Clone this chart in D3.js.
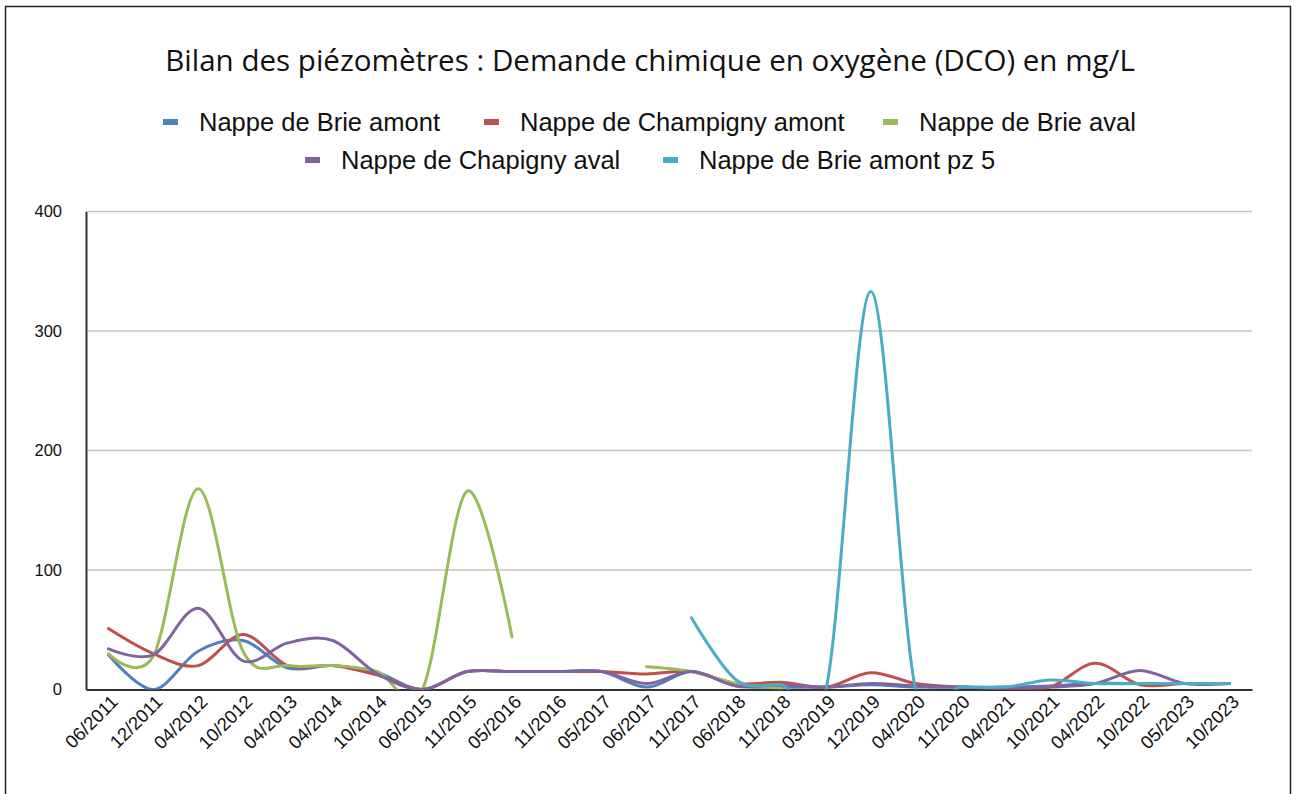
<!DOCTYPE html>
<html><head><meta charset="utf-8">
<script src="https://cdn.jsdelivr.net/npm/d3@7"></script>
<style>body{margin:0;background:#fff}svg{display:block}</style>
</head><body>
<svg id="c" width="1296" height="794"></svg>
<script>
const title = "Bilan des piézomètres : Demande chimique en oxygène (DCO) en mg/L";
const categories = ["06/2011","12/2011","04/2012","10/2012","04/2013","04/2014","10/2014","06/2015","11/2015","05/2016","11/2016","05/2017","06/2017","11/2017","06/2018","11/2018","03/2019","12/2019","04/2020","11/2020","04/2021","10/2021","04/2022","10/2022","05/2023","10/2023"];
const seriesNames = ["Nappe de Brie amont","Nappe de Champigny amont","Nappe de Brie aval","Nappe de Chapigny aval","Nappe de Brie amont pz 5"];
const brieAmont      = [29, 0, 32, 41, 18, 20, 14, 0, 15, 15, 15, 15, 2, 15, 3, 2, 2, 4, 2, 2, 2, 3, 5, 5, 5, 5];
const champignyAmont = [51, 30, 20, 46, 20, 20, 12, 0, 15, 15, 15, 15, 13, 15, 5, 6, 2, 14, 5, 2, 1, 2, 22, 4, 5, 5];
const brieAval       = [30, 28, 168, 32, 20, 20, 15, 0, 166, 44, null, null, 19, 15, 5, 1, null, null, null, null, null, null, null, null, null, null];
const chapignyAval   = [34, 29, 68, 24, 39, 41, 13, 0, 15, 15, 15, 15, 5, 15, 3, 4, 2, 5, 3, 2, 1, 2, 5, 16, 5, 5];
const brieAmontPz5   = [null, null, null, null, null, null, null, null, null, null, null, null, null, 60, 8, 4, 0, 333, 0, 2, 2, 8, 5, 5, 5, 5];
const yTicks = [0, 100, 200, 300, 400];
const colors = ["#4F81BD","#C0504D","#9BBB59","#8064A2","#4BACC6"];
const allSeries = [brieAmont, champignyAmont, brieAval, chapignyAval, brieAmontPz5];

const svg = d3.select("#c");
const L = 86, R = 1252, T = 211.5, B = 689.5;

// outer frame
svg.append("rect").attr("x",5.5).attr("y",6.5).attr("width",1285).attr("height",820)
  .attr("fill","none").attr("stroke","#222").attr("stroke-width",1.5);

const x = d3.scaleBand().domain(categories).range([L, R]);
const y = d3.scaleLinear().domain([0, 400]).range([B, T]);
const cx = c => x(c) + x.bandwidth()/2;

// title, fitted to its width in the reference
const tt = svg.append("text").attr("x", 650).attr("y", 71).attr("text-anchor","middle")
  .attr("font-family","'Open Sans', sans-serif").attr("font-size", 26).attr("fill","#111").text(title);
const tw = tt.node().getComputedTextLength();
tt.attr("font-size", 26 * 970 / tw);

// gridlines
svg.append("g").selectAll("line").data(yTicks.filter(d=>d>0)).join("line")
  .attr("x1", L).attr("x2", R).attr("y1", d=>y(d)).attr("y2", d=>y(d))
  .attr("stroke","#c4c4c4").attr("stroke-width",1.5);

// y axis
const yAxis = svg.append("g").attr("transform",`translate(${L},0)`)
  .call(d3.axisLeft(y).tickValues(yTicks).tickSize(0).tickPadding(24));
yAxis.select(".domain").attr("stroke","#333").attr("stroke-width",2);
yAxis.selectAll("text").attr("font-family","'Liberation Sans', Arial, sans-serif").attr("font-size",16.5).attr("fill","#111");

// x axis
const xAxis = svg.append("g").attr("transform",`translate(0,${B})`)
  .call(d3.axisBottom(x).tickSize(0).tickFormat(""));
xAxis.select(".domain").attr("stroke","#333").attr("stroke-width",2);
svg.append("g").selectAll("text").data(categories).join("text")
  .attr("transform", d => `translate(${cx(d)+6},${B+9}) rotate(-45)`)
  .attr("text-anchor","end").attr("dy","0.35em")
  .attr("font-family","'Liberation Sans', Arial, sans-serif").attr("font-size",18.5).attr("fill","#111")
  .text(d=>d);

// clip
svg.append("clipPath").attr("id","plot").append("rect")
  .attr("x", L).attr("y", T-40).attr("width", R-L).attr("height", B-T+40);

const line = d3.line()
  .defined(d => d.v !== null)
  .x(d => cx(d.c)).y(d => y(d.v))
  .curve(d3.curveCardinal.tension(0));

const gl = svg.append("g").attr("clip-path","url(#plot)");
allSeries.forEach((vals, i) => {
  const pts = categories.map((c, j) => ({c, v: vals[j]}));
  gl.append("path").datum(pts).attr("d", line).attr("fill","none")
    .attr("stroke", colors[i]).attr("stroke-width", 3).attr("stroke-linejoin","round").attr("stroke-linecap","round");
});

// legend
const legendPos = [[163,122],[484,122],[883,122],[305,160],[663,160]];
const lg = svg.append("g");
seriesNames.forEach((n, i) => {
  const [lx, ly] = legendPos[i];
  lg.append("rect").attr("x", lx).attr("y", ly-3).attr("width", 15).attr("height", 6).attr("fill", colors[i]);
  lg.append("text").attr("x", lx+36).attr("y", ly).attr("dy","0.35em")
    .attr("font-family","'Liberation Sans', Arial, sans-serif").attr("font-size",25.5).attr("fill","#111").text(n);
});
</script>
</body></html>
